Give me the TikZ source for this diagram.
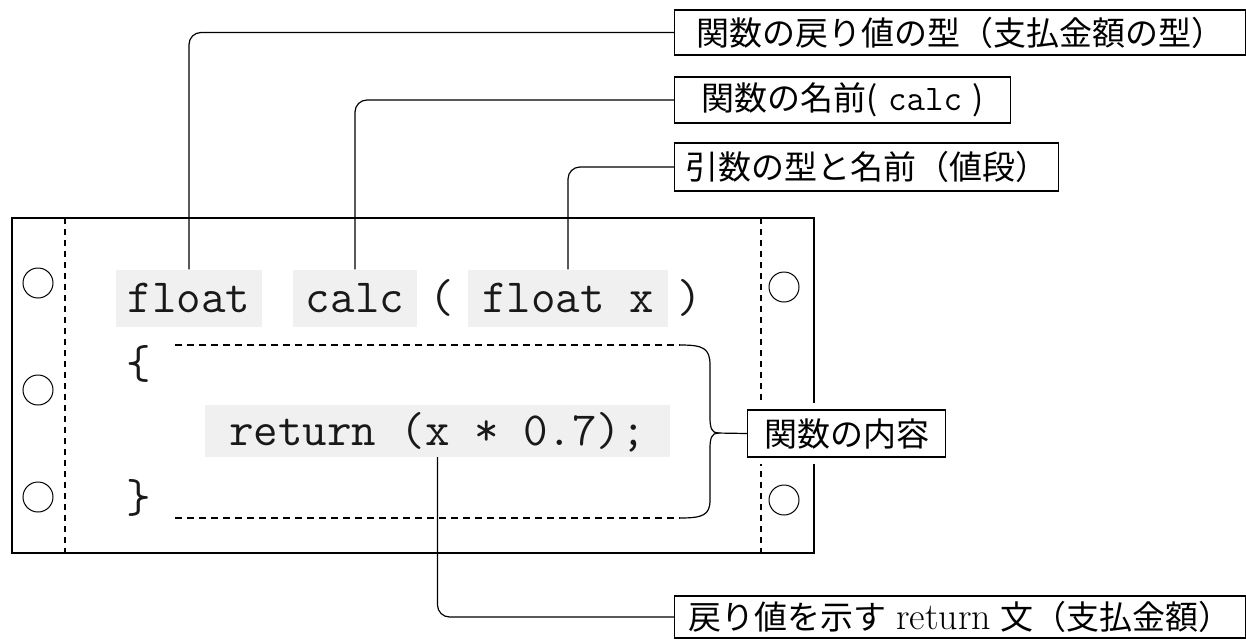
\documentclass[tikz,border=0pt]{standalone}
\usepackage{fontspec}
\newfontfamily\cjk{Noto Sans CJK JP}
\tikzset{
  code/.style={font={\fontsize{47.6}{56}\selectfont\ttfamily}, text height=32pt, text depth=4pt, inner sep=0pt, text=black!90},
  hl/.style={code, fill=black!6},
  lab/.style={draw, fill=white, line width=1.3pt, font={\fontsize{33}{40}\selectfont}, inner sep=0pt, anchor=west},
  conn/.style={line width=1.2pt, rounded corners=12pt},
  dashln/.style={dash pattern=on 7pt off 5pt, line width=1.2pt},
  edge/.style={line width=1.3pt},
  hole/.style={line width=1pt},
}
\begin{document}
\begin{tikzpicture}[x=1pt,y=-1pt]
\useasboundingbox (0,0) rectangle (1246,640);
% paper sheet
\draw[edge] (12,218) rectangle (814,553);
\draw[dashln, dash pattern=on 6pt off 5pt] (65,218) -- (65,553);
\draw[dashln, dash pattern=on 6pt off 5pt] (761,218) -- (761,553);
\foreach \yy in {283,390,497} \draw[hole] (38,\yy) circle (15);
\foreach \yy in {287,500} \draw[hole] (784,\yy) circle (15);
% code
\node[hl, minimum width=146pt, minimum height=57pt] (kw1) at (189,298) {float};
\node[hl, minimum width=124pt, minimum height=57pt] (kw2) at (355,298) {calc};
\node[code] (lp) at (442,298) {(};
\node[hl, minimum width=200pt, minimum height=57pt] (kw3) at (568,298) {float x};
\node[code] (rp) at (690,298) {)};
\node[code, anchor=base] (ob) at (139,378) {\{};
\node[hl, minimum width=465pt, minimum height=52pt] (ret) at (437.5,431) {return (x * 0.7);};
\node[code, anchor=base] (cb) at (139,512) {\}};
% body range
\draw[dashln] (175,345) -- (680,345);
\draw[dashln] (175,518) -- (680,518);
\draw[line width=1.2pt] (680,345) .. controls (703,345) and (710,348) .. (710,365) -- (710,418)
  .. controls (710,428) and (712,433) .. (718,433)
  .. controls (712,433) and (710,438) .. (710,448) -- (710,500)
  .. controls (710,515) and (703,518) .. (680,518);
\coordinate (tip) at (716,433);
% labels
\node[lab, minimum width=571pt, minimum height=45pt] (lab1) at (674,32.5) {\cjk 関数の戻り値の型（支払金額の型）};
\node[lab, minimum width=336pt, minimum height=46pt] (lab2) at (674,100) {{\cjk 関数の名前(}\ {\fontsize{36}{42}\selectfont\ttfamily calc}\ {\cjk )}};
\node[lab, minimum width=384pt, minimum height=48pt] (lab3) at (674,167) {\cjk 引数の型と名前（値段）};
\node[lab, minimum width=198pt, minimum height=47pt, preaction={draw=white, line width=14pt}] (lab4) at (747,433.5) {\cjk 関数の内容};
\node[lab, minimum width=571pt, minimum height=42pt] (lab5) at (674,617) {{\cjk 戻り値を示す}\ {\fontsize{38}{44}\selectfont return}\ {\cjk 文（支払金額）}};
% connectors
\draw[conn] (kw1.north) |- (lab1.west);
\draw[conn] (kw2.north) |- (lab2.west);
\draw[conn] (kw3.north) |- (lab3.west);
\draw[conn] (ret.south) |- (lab5.west);
\draw[line width=1.2pt] (tip) -- (lab4.west);
\end{tikzpicture}
\end{document}
